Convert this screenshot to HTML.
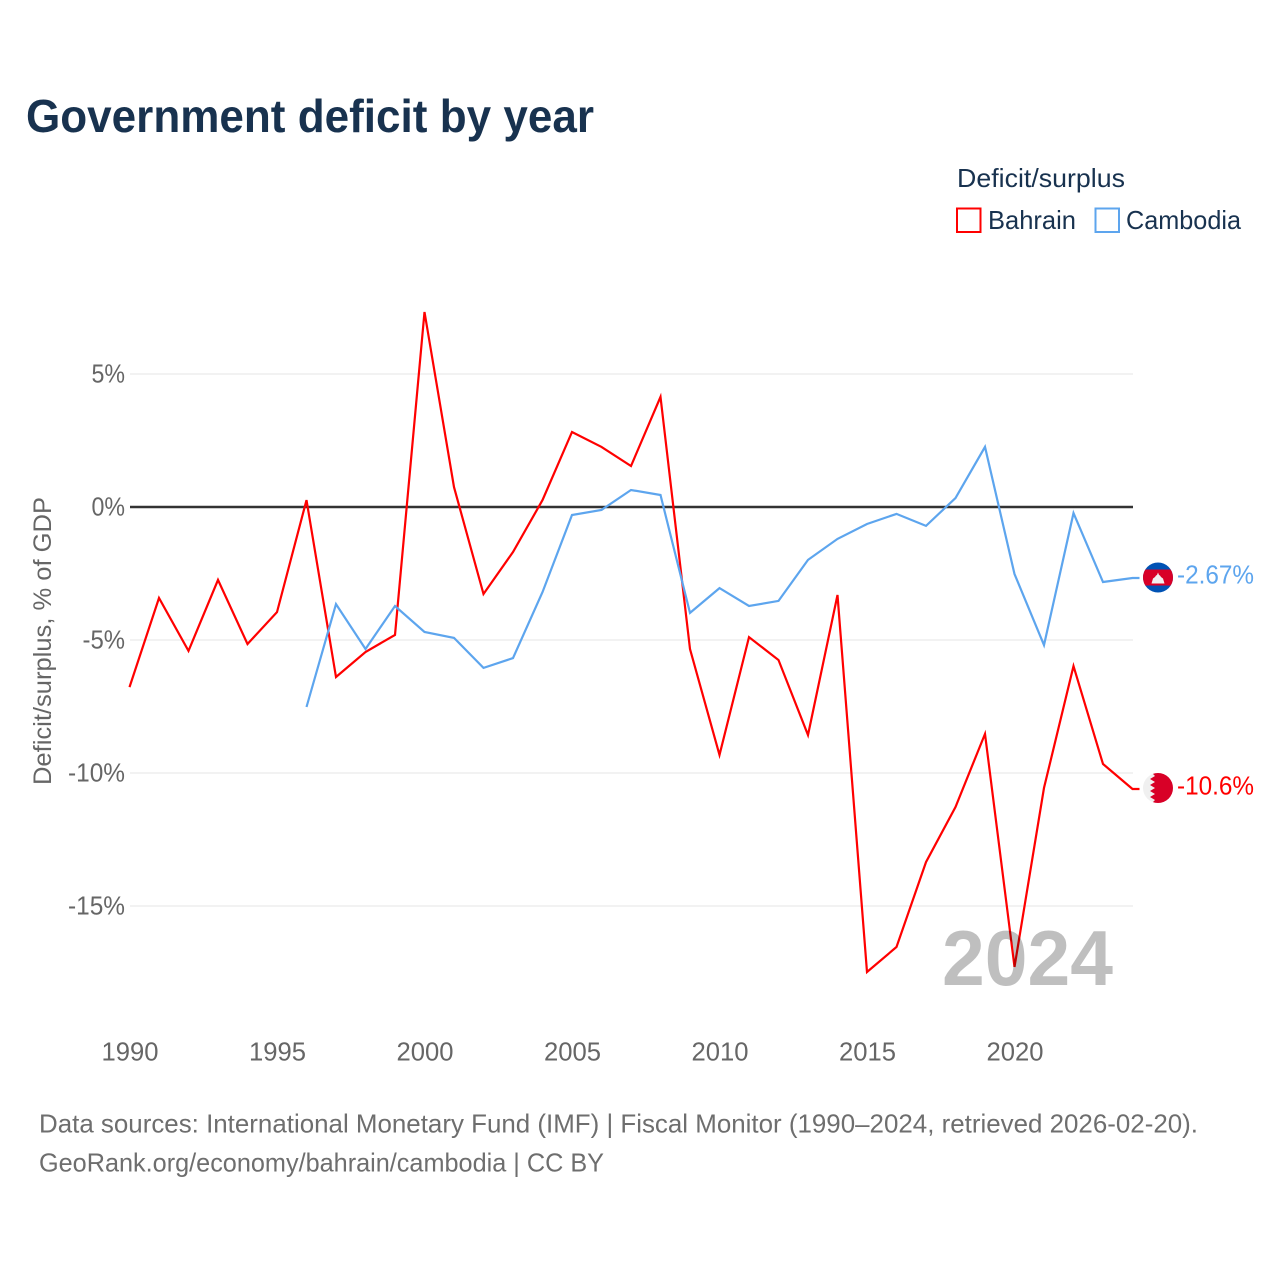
<!DOCTYPE html>
<html lang="en">
<head>
<meta charset="utf-8">
<title>Government deficit by year</title>
<style>
html,body{margin:0;padding:0;background:#fff;}
svg{display:block;font-family:"Liberation Sans",sans-serif;}
</style>
</head>
<body>
<svg id="chart" xmlns="http://www.w3.org/2000/svg" width="1280" height="1280" viewBox="0 0 1280 1280">
  <rect width="1280" height="1280" fill="#fff"/>
  <text x="26" y="132" font-size="46" font-weight="700" fill="#18324f" textLength="568" lengthAdjust="spacingAndGlyphs">Government deficit by year</text>
  <text x="957" y="187" font-size="26" fill="#18324f" textLength="168" lengthAdjust="spacingAndGlyphs">Deficit/surplus</text>
  <g>
    <rect x="957" y="208.500" width="23.500" height="23.500" fill="none" stroke="#ff0000" stroke-width="2"/>
    <text x="988" y="229" font-size="26" fill="#18324f" textLength="88" lengthAdjust="spacingAndGlyphs">Bahrain</text>
  </g>
  <g>
    <rect x="1095.500" y="208.500" width="23.500" height="23.500" fill="none" stroke="#5da5ee" stroke-width="2"/>
    <text x="1126" y="229" font-size="26" fill="#18324f" textLength="115" lengthAdjust="spacingAndGlyphs">Cambodia</text>
  </g>
  <text transform="translate(51,641) rotate(-90)" text-anchor="middle" font-size="25" fill="#666" textLength="288" lengthAdjust="spacingAndGlyphs">Deficit/surplus, % of GDP</text>
  <g id="grid"></g>
  <g id="yticks"></g>
  <g id="xticks"></g>
  <g id="series"></g>
  <g id="ends"></g>
  <text x="942" y="985" font-size="78" font-weight="700" fill="#000" fill-opacity="0.25" textLength="171" lengthAdjust="spacingAndGlyphs">2024</text>
  <text x="39" y="1132.500" font-size="26" fill="#6e6e6e" textLength="1159" lengthAdjust="spacingAndGlyphs">Data sources: International Monetary Fund (IMF) | Fiscal Monitor (1990–2024, retrieved 2026-02-20).</text>
  <text x="39" y="1171.500" font-size="26" fill="#6e6e6e" textLength="565" lengthAdjust="spacingAndGlyphs">GeoRank.org/economy/bahrain/cambodia | CC BY</text>
</svg>
<script>
const years = [1990,1991,1992,1993,1994,1995,1996,1997,1998,1999,2000,2001,2002,2003,2004,2005,2006,2007,2008,2009,2010,2011,2012,2013,2014,2015,2016,2017,2018,2019,2020,2021,2022,2023,2024];
const bahrainValues = [-6.77,-3.42,-5.41,-2.74,-5.15,-3.95,0.26,-6.39,-5.45,-4.81,7.33,0.75,-3.27,-1.69,0.26,2.82,2.26,1.54,4.14,-5.34,-9.32,-4.89,-5.75,-8.57,-3.31,-17.48,-16.54,-13.35,-11.28,-8.53,-17.29,-10.56,-5.98,-9.66,-10.6];
const cambodiaValues = [null,null,null,null,null,null,-7.52,-3.65,-5.34,-3.72,-4.70,-4.92,-6.05,-5.68,-3.2,-0.30,-0.11,0.64,0.45,-3.98,-3.05,-3.72,-3.53,-1.99,-1.2,-0.64,-0.26,-0.71,0.34,2.26,-2.52,-5.19,-0.23,-2.82,-2.67];
const yTickValues = [5,0,-5,-10,-15];
const yTickLabels = ['5%','0%','-5%','-10%','-15%'];
const xTickLabels = [1990,1995,2000,2005,2010,2015,2020];
const bahrainEndLabel = '-10.6%';
const cambodiaEndLabel = '-2.67%';

const NS = 'http://www.w3.org/2000/svg';
const x = yr => 129.5 + (yr - 1990) * 29.5;
const y = v => 507 - v * 26.6;
const make = (tag, parent, attrs) => {
  const el = document.createElementNS(NS, tag);
  for (const k in attrs) el.setAttribute(k, attrs[k]);
  parent.appendChild(el);
  return el;
};
const labelWidth = s => {
  let w = 0;
  for (const c of String(s)) w += c === '%' ? 19 : c === '-' ? 9 : c === '.' ? 6 : 14.5;
  return w;
};

const grid = document.getElementById('grid');
const yticks = document.getElementById('yticks');
yTickValues.forEach((v, i) => {
  const line = make('line', grid, {x1: 130, x2: 1133, y1: y(v), y2: y(v), stroke: v === 0 ? '#333' : '#e6e6e6', 'stroke-width': v === 0 ? 2.4 : 1});
  
  
  const t = make('text', yticks, {x: 125, y: y(v) + 8.5, 'text-anchor': 'end', 'font-size': 26, fill: '#666', textLength: labelWidth(yTickLabels[i]), lengthAdjust: 'spacingAndGlyphs'});
  
  
  t.textContent = yTickLabels[i];
});

const xticks = document.getElementById('xticks');
xTickLabels.forEach(yr => {
  const t = make('text', xticks, {x: x(yr) + 0.5, y: 1060.5, 'text-anchor': 'middle', 'font-size': 26, fill: '#666', textLength: 57, lengthAdjust: 'spacingAndGlyphs'});
  
  
  t.textContent = yr;
});

const seriesGroup = document.getElementById('series');
const drawLine = (values, color, name) => {
  const pts = [];
  values.forEach((v, i) => { if (v !== null) pts.push(x(years[i]).toFixed(1) + ',' + y(v).toFixed(1)); });
  const lastY = y(values[values.length - 1]).toFixed(1);
  pts.push((x(years[years.length - 1]) + 7) + ',' + lastY);
  const p = make('polyline', seriesGroup, {points: pts.join(' '), fill: 'none', stroke: color, 'stroke-width': 2.2, 'stroke-linejoin': 'miter'});
  
  
};
drawLine(bahrainValues, '#ff0000', 'bahrain-line');
drawLine(cambodiaValues, '#5da5ee', 'cambodia-line');

const ends = document.getElementById('ends');
const flagX = 1158;
const defs = make('defs', ends, {});
const drawFlagClip = (id) => {
  const c = make('clipPath', defs, {id: id});
  make('circle', c, {cx: 0, cy: 0, r: 15});
};
drawFlagClip('clip-kh');
drawFlagClip('clip-bh');

const kh = make('g', ends, {transform: 'translate(' + flagX + ',' + (y(cambodiaValues[cambodiaValues.length - 1]) - 0.5) + ')', 'clip-path': 'url(#clip-kh)'});


make('rect', kh, {x: -15, y: -15, width: 30, height: 30, fill: '#0052b4'});
make('rect', kh, {x: -15, y: -8, width: 30, height: 16, fill: '#d80027'});
make('polygon', kh, {points: '-6.5,6 -5,1 -3,-0.5 -2,-2 -1,-2.5 0,-5 1,-2.5 2,-2 3,-0.5 5,1 6.5,6', fill: '#f0f0f0'});

const bh = make('g', ends, {transform: 'translate(' + flagX + ',' + (y(bahrainValues[bahrainValues.length - 1]) - 1) + ')', 'clip-path': 'url(#clip-bh)'});


make('rect', bh, {x: -15, y: -15, width: 30, height: 30, fill: '#f0f0f0'});
make('polygon', bh, {points: '15,-15 -6,-15 -3,-12 -8,-9 -3,-6 -8,-3 -3,0 -8,3 -3,6 -8,9 -3,12 -6,15 15,15', fill: '#d80027'});

const endLabel = (value, label, color, name) => {
  const t = make('text', ends, {x: 1177, y: y(value) + 5.5, 'font-size': 26, fill: color, textLength: 77, lengthAdjust: 'spacingAndGlyphs'});
  
  
  t.textContent = label;
};
endLabel(cambodiaValues[cambodiaValues.length - 1], cambodiaEndLabel, '#5da5ee', 'cambodia-end-label');
endLabel(bahrainValues[bahrainValues.length - 1], bahrainEndLabel, '#ff0000', 'bahrain-end-label');
</script>
</body>
</html>
